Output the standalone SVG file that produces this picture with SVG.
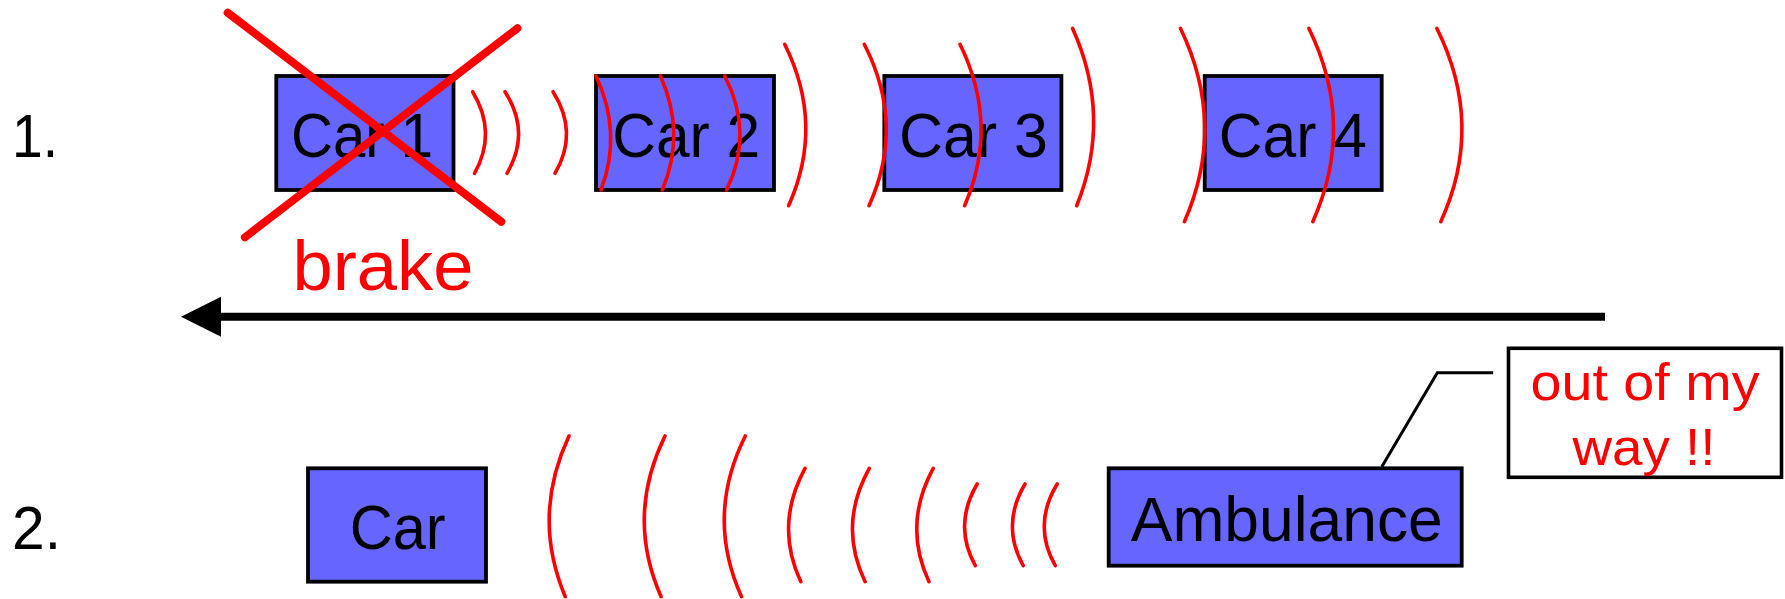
<svg xmlns="http://www.w3.org/2000/svg" width="1785" height="599" viewBox="0 0 1785 599">
  <style>
    .box { fill: #6666ff; stroke: #000; stroke-width: 3.8; }
    .label { font-family: "Liberation Sans", Arial, sans-serif; font-size: 63px; fill: #000; text-anchor: middle; }
    .num { font-family: "Liberation Sans", Arial, sans-serif; font-size: 62px; fill: #000; }
    .red { font-family: "Liberation Sans", Arial, sans-serif; fill: #ff0000; text-anchor: middle; }
    .wave { fill: none; stroke: #ff0000; stroke-width: 3.6; stroke-linecap: round; }
    .cross { stroke: #ff0000; stroke-width: 8; stroke-linecap: round; }
    .conn { fill: none; stroke: #000; }
  </style>
  <defs>
    <marker id="head" markerUnits="userSpaceOnUse" markerWidth="42" markerHeight="42" refX="0" refY="20" orient="auto" overflow="visible">
      <path d="M0,0 L40,20 L0,40 Z" fill="#000"/>
    </marker>
  </defs>

  <rect width="1785" height="599" fill="#fff"/>

  <!-- step numbers -->
  <text class="num" x="12" y="156.7" textLength="46" lengthAdjust="spacingAndGlyphs">1.</text>
  <text class="num" x="12" y="549.3" textLength="49" lengthAdjust="spacingAndGlyphs">2.</text>

  <!-- row 1: platoon -->
  <g id="car1">
    <rect class="box" x="276.3" y="76" width="177.2" height="114"/>
    <text class="label" x="362" y="156.7" textLength="142" lengthAdjust="spacingAndGlyphs">Car 1</text>
  </g>
  <g id="car2">
    <rect class="box" x="596" y="76" width="178" height="114"/>
    <text class="label" x="686.2" y="156.7" textLength="148" lengthAdjust="spacingAndGlyphs">Car 2</text>
  </g>
  <g id="car3">
    <rect class="box" x="884.3" y="76" width="177.1" height="114"/>
    <text class="label" x="973.4" y="156.7" textLength="149" lengthAdjust="spacingAndGlyphs">Car 3</text>
  </g>
  <g id="car4">
    <rect class="box" x="1204.7" y="76" width="177" height="114"/>
    <text class="label" x="1292.8" y="156.7" textLength="148" lengthAdjust="spacingAndGlyphs">Car 4</text>
  </g>

  <!-- row 2: car and ambulance -->
  <g id="car">
    <rect class="box" x="308" y="468.3" width="178" height="113.4"/>
    <text class="label" x="397.7" y="549.3" textLength="96" lengthAdjust="spacingAndGlyphs">Car</text>
  </g>
  <g id="ambulance">
    <rect class="box" x="1108.7" y="468.3" width="353" height="97.4"/>
    <text class="label" x="1286.8" y="540.7" textLength="312" lengthAdjust="spacingAndGlyphs">Ambulance</text>
  </g>
  <g id="callout">
    <rect x="1508.5" y="348.3" width="273" height="129" fill="#fff" stroke="#000" stroke-width="3.6"/>
    <text class="red" x="1645" y="400" font-size="52" textLength="229" lengthAdjust="spacingAndGlyphs">out of my</text>
    <text class="red" x="1644" y="465" font-size="52" textLength="143" lengthAdjust="spacingAndGlyphs">way !!</text>
  </g>

  <!-- broadcast waves, row 1 (travelling right) -->
  <g id="waves-row1">
    <path class="wave" d="M472.6,91.7 Q497.4,132.5 474.5,173.3"/>
    <path class="wave" d="M505,91.7 Q531.2,132.5 507,173.3"/>
    <path class="wave" d="M553,91.7 Q579,132.5 555,173.3"/>
    <path class="wave" d="M596,76 Q622.7,133 601,190"/>
    <path class="wave" d="M660.4,76 Q686.2,133 662.3,190"/>
    <path class="wave" d="M724.7,76 Q754.3,133 726.6,190"/>
    <path class="wave" d="M784.7,44.3 Q824.9,125 788.6,205.7"/>
    <path class="wave" d="M864.3,44.3 Q905.7,125 869,205.7"/>
    <path class="wave" d="M960,44.3 Q999.7,125 964.6,205.7"/>
    <path class="wave" d="M1072.5,28.3 Q1112.6,117 1076.7,205.7"/>
    <path class="wave" d="M1180.4,28.3 Q1227,125 1184.4,221.7"/>
    <path class="wave" d="M1308.8,28.3 Q1356.2,125 1312.8,221.7"/>
    <path class="wave" d="M1436.8,28.3 Q1485,125 1440.8,221.7"/>
  </g>

  <!-- broadcast waves, row 2 (travelling left) -->
  <g id="waves-row2">
    <path class="wave" d="M569,436 Q531.3,516.3 565.3,596.7"/>
    <path class="wave" d="M665,436 Q625.6,516.3 661.1,596.7"/>
    <path class="wave" d="M745.3,436 Q705.2,516.3 741.5,596.7"/>
    <path class="wave" d="M805,468.3 Q774.3,525 800.8,581.7"/>
    <path class="wave" d="M869.3,468.3 Q837.8,525 865.1,581.7"/>
    <path class="wave" d="M933.2,468.3 Q902.5,525 929,581.7"/>
    <path class="wave" d="M977.2,484 Q952.9,524.9 975.3,565.7"/>
    <path class="wave" d="M1025,484 Q1000.7,524.9 1023.2,565.7"/>
    <path class="wave" d="M1057.2,484 Q1032.2,524.9 1055.3,565.7"/>
  </g>

  <!-- braking car crossed out -->
  <g id="brake-mark">
    <line class="cross" x1="227.7" y1="12.7" x2="501.3" y2="221.7"/>
    <line class="cross" x1="517.4" y1="28.3" x2="244.9" y2="237.3"/>
    <text class="red" x="383" y="290" font-size="70" textLength="181" lengthAdjust="spacingAndGlyphs">brake</text>
  </g>

  <!-- connectors -->
  <g id="connectors">
    <line class="conn" x1="1605" y1="316.7" x2="221" y2="316.7" stroke-width="8" marker-end="url(#head)"/>
    <polyline class="conn" points="1381.8,466.7 1437.3,372.7 1493.2,372.7" stroke-width="3"/>
  </g>
</svg>
